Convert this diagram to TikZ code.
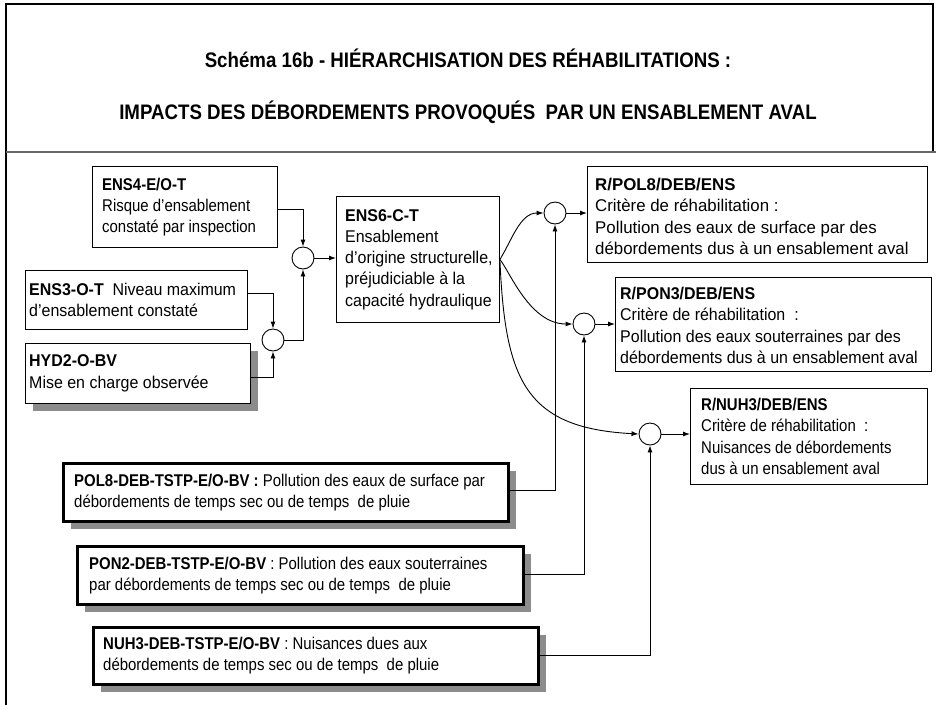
\documentclass[tikz,border=0pt]{standalone}
\usepackage{fontspec}
\setmainfont{Liberation Sans}[FakeStretch=0.88]
\newfontfamily\fN{Liberation Sans}[FakeStretch=0.88]
\newfontfamily\fM{Liberation Sans}[FakeStretch=0.94]
\newfontfamily\fW{Liberation Sans}[FakeStretch=0.99]
\newfontfamily\tfont{Liberation Sans}[FakeStretch=0.89]
\usetikzlibrary{arrows.meta,shadows}
\begin{document}
\begin{tikzpicture}[x=1pt,y=-1pt,
  bx/.style={draw=black, line width=0.9pt, fill=white, anchor=north west, inner sep=0pt},
  thk/.style={line width=2.8pt},
  shd/.style={drop shadow={shadow xshift=8pt, shadow yshift=-8pt, fill=black!45, opacity=1}},
  txt/.style={anchor=west, inner sep=0pt, align=left, font=\fN\fontsize{17}{21.3}\selectfont},
  txtm/.style={txt, font=\fM\fontsize{17}{21.3}\selectfont},
  txtw/.style={txt, font=\fW\fontsize{17}{21.5}\selectfont},
  circ/.style={circle, draw=black, line width=0.9pt, minimum size=22pt, inner sep=0pt, fill=white},
  arr/.style={-{Latex[length=7pt,width=5pt]}, line width=0.9pt},
  ttl/.style={font=\tfont\bfseries\fontsize{21}{25}\selectfont}
]
\useasboundingbox (0,0) rectangle (936,705);
% frame
\draw[line width=2pt] (6,705) -- (6,4) -- (933,4) -- (933,152);
\draw[line width=1.5pt, black!60] (6,152) -- (936,152);
% titles
\node[ttl] (t1) at (468,58) {Schéma 16b - HIÉRARCHISATION DES RÉHABILITATIONS :};
\node[ttl] (t2) at (468,112) {IMPACTS DES DÉBORDEMENTS PROVOQUÉS\ \ PAR UN ENSABLEMENT AVAL};
% left boxes
\node[bx, minimum width=185pt, minimum height=81pt] (ens4) at (92,166) {};
\node[txt] (ens4t) at ([xshift=10pt]ens4.west)
  {\textbf{ENS4-E/O-T}\\Risque d’ensablement\\constaté par inspection};
\node[bx, minimum width=222pt, minimum height=59pt] (ens3) at (25,270) {};
\node[txtm] (ens3t) at ([xshift=4pt]ens3.west)
  {\textbf{ENS3-O-T}\ \ Niveau maximum\\d’ensablement constaté};
\node[bx, shd, minimum width=225pt, minimum height=60pt] (hyd2) at (25,343) {};
\node[txtm] (hyd2t) at ([xshift=4pt]hyd2.west)
  {\textbf{HYD2-O-BV}\\Mise en charge observée};
\node[bx, minimum width=163pt, minimum height=126pt] (ens6) at (336,196) {};
\node[txtm] (ens6t) at ([xshift=9pt]ens6.west)
  {\textbf{ENS6-C-T}\\Ensablement\\d’origine structurelle,\\préjudiciable à la\\capacité hydraulique};
% right boxes
\node[bx, minimum width=340pt, minimum height=96pt] (rpol) at (587,166) {};
\node[txtw] (rpolt) at ([xshift=8pt,yshift=-2pt]rpol.west)
  {\textbf{R/POL8/DEB/ENS}\\Critère de réhabilitation :\\Pollution des eaux de surface par des\\débordements dus à un ensablement aval};
\node[bx, minimum width=316pt, minimum height=94pt] (rpon) at (615,277) {};
\node[txtm] (rpont) at ([xshift=5pt,yshift=-1pt]rpon.west)
  {\textbf{R/PON3/DEB/ENS}\\Critère de réhabilitation\ \ :\\Pollution des eaux souterraines par des\\débordements dus à un ensablement aval};
\node[bx, minimum width=237pt, minimum height=96pt] (rnuh) at (690,388) {};
\node[txt] (rnuht) at ([xshift=11pt]rnuh.west)
  {\textbf{R/NUH3/DEB/ENS}\\Critère de réhabilitation\ \ :\\Nuisances de débordements\\dus à un ensablement aval};
% bottom boxes
\node[bx, thk, shd, minimum width=445pt, minimum height=58pt] (pol8) at (62,462) {};
\node[txt] (pol8t) at ([xshift=12pt]pol8.west)
  {\textbf{POL8-DEB-TSTP-E/O-BV :} Pollution des eaux de surface par\\débordements de temps sec ou de temps\ \ de pluie};
\node[bx, thk, shd, minimum width=446pt, minimum height=58pt] (pon2) at (76,545) {};
\node[txt] (pon2t) at ([xshift=13pt]pon2.west)
  {\textbf{PON2-DEB-TSTP-E/O-BV} : Pollution des eaux souterraines\\par débordements de temps sec ou de temps\ \ de pluie};
\node[bx, thk, shd, minimum width=445pt, minimum height=57pt] (nuh3) at (92,626) {};
\node[txt] (nuh3t) at ([xshift=11pt]nuh3.west)
  {\textbf{NUH3-DEB-TSTP-E/O-BV} : Nuisances dues aux\\débordements de temps sec ou de temps\ \ de pluie};
% circles
\node[circ] (c1) at (303,258) {};
\node[circ] (c2) at (273,340) {};
\node[circ] (c3) at (555,213) {};
\node[circ] (c4) at (584,324) {};
\node[circ] (c5) at (650,434) {};
% connectors left
\draw[arr] (ens4.east |- 0,209) -| (c1.north);
\draw[arr] (ens3.east |- 0,293) -| (c2.north);
\draw[arr] (hyd2.east |- 0,377) -| (c2.south);
\draw[arr] (c2.east) -| (c1.south);
\draw[arr] (c1.east) -- (ens6.west |- c1.east);
% curves
\draw[arr] (ens6.east) .. controls (512,240) and (520,213) .. (c3.west);
\draw[arr] (ens6.east) .. controls (510,272) and (530,324) .. (c4.west);
\draw[arr] (ens6.east) .. controls (505,380) and (525,428) .. (c5.west);
% to right boxes
\draw[arr] (c3.east) -- (rpol.west |- c3.east);
\draw[arr] (c4.east) -- (rpon.west |- c4.east);
\draw[arr] (c5.east) -- (rnuh.west |- c5.east);
% bottom connectors
\draw[arr] (pol8.east |- 0,490) -| (c3.south);
\draw[arr] (pon2.east |- 0,574) -| (c4.south);
\draw[arr] (nuh3.east |- 0,655) -| (c5.south);
\end{tikzpicture}
\end{document}
